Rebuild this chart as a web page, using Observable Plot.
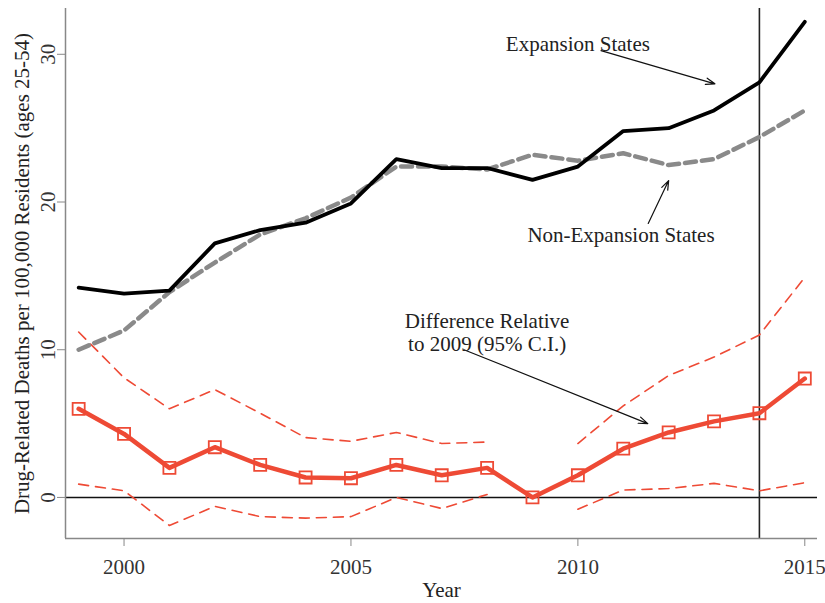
<!DOCTYPE html>
<html>
<head>
<meta charset="utf-8">
<script src="https://cdn.jsdelivr.net/npm/d3@7"></script>
<script src="https://cdn.jsdelivr.net/npm/@observablehq/plot@0.6"></script>
<style>
  html, body { margin: 0; padding: 0; background: #fff; }
</style>
</head>
<body>
<div id="chart"></div>
<script>
const years = [1999, 2000, 2001, 2002, 2003, 2004, 2005, 2006, 2007, 2008, 2009, 2010, 2011, 2012, 2013, 2014, 2015];
const expansion = [14.2, 13.8, 14.0, 17.2, 18.1, 18.6, 19.9, 22.9, 22.3, 22.3, 21.5, 22.4, 24.8, 25.0, 26.2, 28.1, 32.2];
const nonExpansion = [10.0, 11.3, 13.9, 15.9, 17.8, 18.9, 20.3, 22.4, 22.4, 22.2, 23.2, 22.8, 23.3, 22.5, 22.9, 24.4, 26.2];
const difference = [6.0, 4.3, 2.0, 3.4, 2.2, 1.35, 1.3, 2.2, 1.5, 2.0, 0.0, 1.5, 3.3, 4.4, 5.15, 5.7, 8.05];
const ciUpper = [11.2, 8.1, 6.0, 7.3, 5.7, 4.05, 3.8, 4.4, 3.65, 3.75, null, 3.65, 6.2, 8.25, 9.5, 11.0, 14.9];
const ciLower = [0.9, 0.45, -1.9, -0.6, -1.3, -1.4, -1.3, 0.0, -0.75, 0.2, null, -0.8, 0.5, 0.6, 0.95, 0.45, 1.0];

const xTicks = [2000, 2005, 2010, 2015];
const yTicks = [0, 10, 20, 30];
const xDomain = [1998.71, 2015.28];
const yDomain = [-2.78, 33.1];
const policyYear = 2014;

const yLabel = "Drug-Related Deaths per 100,000 Residents (ages 25-54)";
const xLabel = "Year";

const labelText = ["Expansion States", "Non-Expansion States", "Difference Relative", "to 2009 (95% C.I.)"];
const labelX = [2010.0, 2010.95, 2008.0, 2008.0];
const labelY = [30.65, 17.75, 11.95, 10.4];
const arrowX1 = [2010.51, 2011.55, 2007.49];
const arrowY1 = [30.25, 18.55, 10.0];
const arrowX2 = [2013.02, 2012.0, 2011.54];
const arrowY2 = [28.0, 21.45, 5.0];

const rows = years.map((yr, i) => ({
  year: yr, exp: expansion[i], non: nonExpansion[i], diff: difference[i],
  up: ciUpper[i], lo: ciLower[i]
}));
const labels = labelText.map((t, i) => ({text: t, x: labelX[i], y: labelY[i]}));
const arrows = arrowX1.map((x1, i) => ({x1, y1: arrowY1[i], x2: arrowX2[i], y2: arrowY2[i]}));

const red = "#ee4a35";
const font = "Liberation Serif, Times New Roman, serif";
const fs = 21;

const chart = Plot.plot({
  width: 825,
  height: 603,
  marginLeft: 65,
  marginRight: 8,
  marginTop: 8,
  marginBottom: 65,
  style: {fontFamily: font, fontSize: fs + "px", background: "#fff", color: "#333"},
  x: {domain: xDomain},
  y: {domain: yDomain},
  marks: [
    Plot.ruleY([0], {stroke: "#111", strokeWidth: 1.5}),
    Plot.ruleX([policyYear], {stroke: "#222", strokeWidth: 1.6}),
    Plot.line(rows, {x: "year", y: "up", stroke: red, strokeWidth: 1.6, strokeDasharray: "10,7"}),
    Plot.line(rows, {x: "year", y: "lo", stroke: red, strokeWidth: 1.6, strokeDasharray: "10,7"}),
    Plot.line(rows, {x: "year", y: "non", stroke: "#8a8a8a", strokeWidth: 4.5, strokeDasharray: "11,6"}),
    Plot.line(rows, {x: "year", y: "exp", stroke: "#000", strokeWidth: 3.8}),
    Plot.line(rows, {x: "year", y: "diff", stroke: red, strokeWidth: 4.5}),
    Plot.dot(rows, {x: "year", y: "diff", symbol: "square", r: 6.8, stroke: red, strokeWidth: 1.8, fill: "none"}),
    Plot.arrow(arrows, {x1: "x1", y1: "y1", x2: "x2", y2: "y2", stroke: "#111", strokeWidth: 1.2, headLength: 12, headAngle: 40}),
    Plot.text(labels, {x: "x", y: "y", text: "text", fill: "#222", fontSize: fs, fontFamily: font}),
    Plot.ruleX([xDomain[0]], {stroke: "#888", strokeWidth: 1.5}),
    Plot.ruleY([yDomain[0]], {stroke: "#888", strokeWidth: 1.5}),
    Plot.axisX({ticks: xTicks, tickSize: 8, tickPadding: 13, tickFormat: d => String(d), stroke: "#888", fill: "#333", fontSize: fs}),
    Plot.axisY({ticks: yTicks, tickSize: 8, tickFormat: () => "", stroke: "#888"}),
    Plot.text(yTicks, {y: d => d, frameAnchor: "left", rotate: -90, dx: -11, lineAnchor: "bottom", textAnchor: "middle", text: d => String(d), fill: "#333", fontSize: fs}),
    Plot.text([yLabel], {frameAnchor: "left", rotate: -90, dx: -43, textAnchor: "middle", text: d => d, fill: "#222", fontSize: fs}),
    Plot.text([xLabel], {frameAnchor: "bottom", dy: 58, lineAnchor: "bottom", text: d => d, fill: "#222", fontSize: fs})
  ]
});
document.getElementById("chart").appendChild(chart);
</script>
</body>
</html>
